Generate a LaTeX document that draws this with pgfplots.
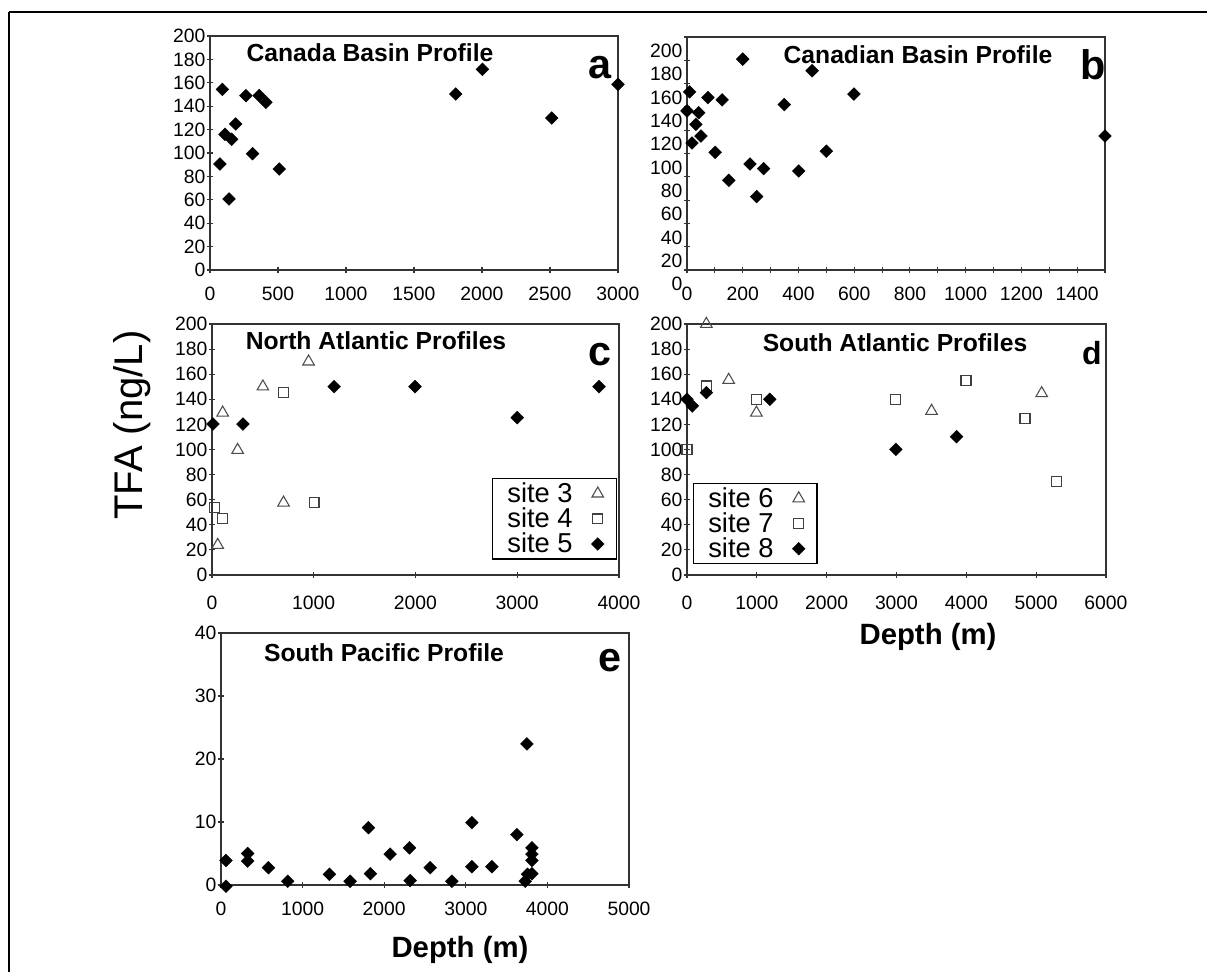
\documentclass[border=0pt]{standalone}
\usepackage{fontspec}
\setmainfont{Liberation Sans}
\usepackage{pgfplots}
\pgfplotsset{compat=1.18}
\pgfplotsset{
  panel/.style={scale only axis, clip=false, anchor=south west,
    axis line style={draw=black!80, line width=0.9pt},
    tick align=center, tick pos=left,
    major tick length=5pt, minor tick length=5pt,
    every tick/.style={draw=black!80, line width=0.8pt},
    tick label style={font=\fontsize{14.5}{15}\selectfont},
    yticklabel style={xshift=2.5pt},
    xticklabel style={yshift=-6.5pt},
    /pgf/number format/assume math mode=true,
    /pgf/number format/1000 sep={},
    ymin=0, ymax=200, ytick={0,20,...,200}, xmin=0},
  dia/.style={only marks, mark=square*, mark size=3.4pt,
    mark options={rotate=45, draw=black, fill=black, line width=0.3pt}},
  tri/.style={only marks, mark=triangle, mark size=5pt,
    mark options={draw=black!70, line width=0.8pt}},
  sq/.style={only marks, mark=square, mark size=3.7pt,
    mark options={draw=black!75, line width=1pt}},
  leg/.style={legend plot pos=right, legend cell align=right,
    xticklabel style={yshift=-3.5pt},
    legend style={draw=black, line width=1pt, fill=white,
      font=\fontsize{20.5}{21}\selectfont, anchor=north west,
      inner xsep=9pt, inner ysep=1pt, row sep=-1.5pt, column sep=12pt}},
}
\begin{document}
\begin{tikzpicture}
\begin{scope}[x=0.75pt,y=-0.75pt,yshift=729pt]
  \useasboundingbox (0,0) rectangle (1207,972);
  \fill[white] (0,0) rectangle (1207,972);
  \draw[line width=0.8pt] (9,12) -- (1207,12);
  \draw[line width=1.6pt] (9,12) -- (100,12);
  \draw[line width=1.6pt] (1129,12) -- (1207,12);
  \draw[line width=1.6pt] (9,12) -- (9,972);
\end{scope}

% a
\begin{axis}[panel, at={(157.5pt,526.5pt)}, width=306pt, height=175.5pt,
  xmax=3000, xtick={0,500,...,3000}]
\addplot[dia] coordinates {
(73,90.6) (91,154.4) (110,116) (140,60.7) (159,111.7) (189,124.8)
(264,149) (313,99.4) (362,149) (411,143.3) (509,86.3)
(1807,150.4) (2003,171.5) (2513,129.9) (3000,158.7)};
\end{axis}

% b
\begin{axis}[panel, at={(515.25pt,526.5pt)}, width=313.5pt, height=174.75pt,
  xmax=1500, xtick={0,200,...,1400}, minor xtick={100,300,...,1500},
  yticklabel style={yshift=-10.5pt}]
\addplot[dia] coordinates {
(0,136.6) (9.5,152.9) (18,109) (32,125) (42,135) (50,115) (75,148)
(101,101) (126,146) (150,77) (200,181) (226,91) (250,63) (275,87)
(349,142) (401,85) (449,171) (500,102) (599,151) (1500,115)};
\end{axis}

% c
\begin{axis}[panel, leg, at={(159pt,297.75pt)}, width=305.25pt, height=188.25pt,
  xmax=4000, xtick={0,1000,...,4000},
  legend style={at={(0.688,0.386)}}]
\addplot[tri] coordinates {
(56,23.9) (105,129.3) (252,99.6) (500,150.1) (703,57.6) (949,170)};
\addlegendentry{site 3}
\addplot[sq] coordinates {
(26,53.9) (105,45.2) (703,145.3) (1004,57.9)};
\addlegendentry{site 4}
\addplot[dia] coordinates {
(10,120.3) (304,120.3) (1200,150.1) (1995,150.1) (3000,125.4) (3804,150.1)};
\addlegendentry{site 5}
\end{axis}

% d
\begin{axis}[panel, leg, at={(515.25pt,297.75pt)}, width=314.25pt, height=188.25pt,
  xmax=6000, xtick={0,1000,...,6000},
  legend style={at={(0.0143,0.367)}}]
\addplot[tri] coordinates {
(277,200) (597,155.4) (994,129.3) (3502,130.7) (5079,144.8)};
\addlegendentry{site 6}
\addplot[sq] coordinates {
(0,100.1) (277,150.6) (994,140) (2986,140) (3994,154.8) (4840,124.8) (5294,74.4)};
\addlegendentry{site 7}
\addplot[dia] coordinates {
(0,140) (76,134.7) (277,145.3) (1185,140) (2991,100.1) (3860,110.2)};
\addlegendentry{site 8}
\end{axis}

% e
\begin{axis}[panel, at={(165.75pt,65.25pt)}, width=306pt, height=189pt,
  xmax=5000, xtick={0,1000,...,5000}, ymax=40, ytick={0,10,...,40}]
\addplot[dia] coordinates {
(61,3.9) (61,-0.2) (327,5) (327,3.8) (581,2.75) (818,0.6) (1329,1.7)
(1582,0.6) (1807,9.1) (1831,1.8) (2073,4.9) (2310,5.9) (2318,0.7)
(2563,2.75) (2829,0.6) (3074,9.9) (3074,2.9) (3320,2.9) (3626,8)
(3749,22.4) (3728,0.6) (3757,1.7) (3810,5.9) (3810,4.9) (3810,3.9) (3810,1.8)};
\end{axis}

\begin{scope}[x=0.75pt,y=-0.75pt,yshift=729pt]
  \tikzset{ttl/.style={font=\fontsize{18.5}{20}\selectfont\bfseries},
           let/.style={font=\fontsize{31}{32}\selectfont\bfseries}}
  \node[ttl] at (370,53) {Canada Basin Profile};
  \node[ttl] at (918,55) {Canadian Basin Profile};
  \node[ttl] at (376,341) {North Atlantic Profiles};
  \node[ttl] at (895,343) {South Atlantic Profiles};
  \node[ttl] at (384,653) {South Pacific Profile};
  \node[let] at (600,68) {a};
  \node[let] at (1093,65) {b};
  \node[let] at (600,355) {c};
  \node[font=\fontsize{24}{26}\selectfont\bfseries] at (1092,353) {d};
  \node[let] at (610,661) {e};
  \node[rotate=90, font=\fontsize{30}{32}\selectfont] at (132,425) {TFA (ng/L)};
  \node[font=\fontsize{22}{24}\selectfont\bfseries] at (928,637) {Depth (m)};
  \node[font=\fontsize{22}{24}\selectfont\bfseries] at (460,950) {Depth (m)};
\end{scope}
\end{tikzpicture}
\end{document}
